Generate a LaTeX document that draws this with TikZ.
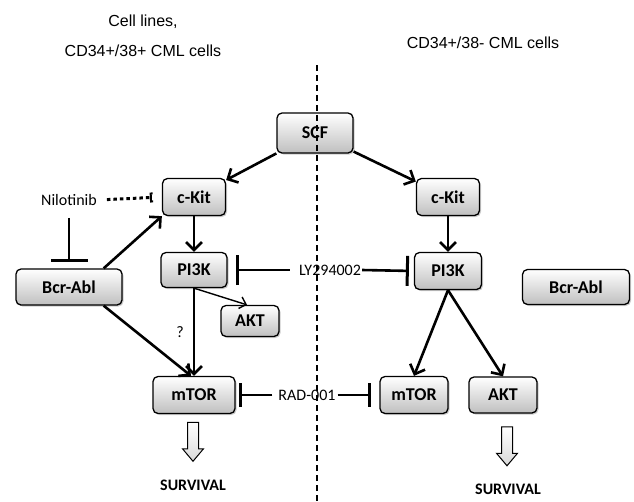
\documentclass[tikz,border=0pt]{standalone}
\usepackage{fontspec}
\setmainfont{Carlito}
\newfontfamily\arialfont{Liberation Sans}
\usetikzlibrary{arrows.meta,positioning,shapes.arrows,shadows}

\begin{document}
\begin{tikzpicture}[x=1pt,y=-1pt,
	box/.style={draw,line width=1.3pt,rounded corners=5pt,top color=white,bottom color=gray!50,
		drop shadow={shadow xshift=1.5pt,shadow yshift=-1.5pt,opacity=0.4},
		font=\fontsize{18}{21}\selectfont\bfseries,inner sep=0pt},
	act/.style={line width=2.6pt,-{Straight Barb[length=8pt,width=16pt,line width=2.6pt]}},
	inh/.style={line width=2.6pt,-{Bar[width=#1,line width=3pt]}},
	inh/.default=30pt,
	lbl/.style={font=\fontsize{16}{19}\selectfont,inner sep=1pt},
	title/.style={font=\arialfont\fontsize{16}{19}\selectfont,inner sep=1pt},
	surv/.style={single arrow,draw,line width=1pt,top color=white,bottom color=gray!30,
		inner sep=5pt,minimum height=39pt,single arrow head extend=5pt,
		single arrow tip angle=80,shape border rotate=270},
	divider/.style={line width=1.3pt,dash pattern=on 6pt off 4pt}]
	\useasboundingbox (0,0) rectangle (634,501);

	% titles
	\node[title] (tleft1) at (143,22) {Cell lines,};
	\node[title] (tleft2) at (143,51) {CD34+/38+ CML cells};
	\node[title] (tright) at (483,43) {CD34+/38- CML cells};

	% left side
	\node[box,minimum width=76pt,minimum height=40pt] (scf) at (315,133) {SCF};
	\node[box,minimum width=63pt,minimum height=37pt] (kitL) at (194,197) {c-Kit};
	\node[box,minimum width=66pt,minimum height=35pt] (pi3kL) at (194,270) {PI3K};
	\node[box,minimum width=106pt,minimum height=36pt] (bcrL) at (69,287) {Bcr-Abl};
	\node[box,minimum width=58pt,minimum height=31pt] (aktL) at (250,321) {AKT};
	\node[box,minimum width=82pt,minimum height=37pt] (mtorL) at (194,395) {mTOR};

	% right side
	\node[box,minimum width=63pt,minimum height=37pt] (kitR) at (448,197) {c-Kit};
	\node[box,minimum width=67pt,minimum height=37pt] (pi3kR) at (448,271) {PI3K};
	\node[box,minimum width=107pt,minimum height=35pt] (bcrR) at (576,287) {Bcr-Abl};
	\node[box,minimum width=68pt,minimum height=37pt] (mtorR) at (414,395) {mTOR};
	\node[box,minimum width=68pt,minimum height=36pt] (aktR) at (503,395) {AKT};

	% drugs
	\node[lbl] (nilo) at (69,200) {Nilotinib};
	\node[lbl] (ly) at (330,270) {LY294002};
	\node[lbl] (rad) at (307,395) {RAD-001};

	% activation
	\draw[act] (scf) -- (kitL);
	\draw[act] (scf) -- (kitR);
	\draw[act] (kitL) -- (pi3kL);
	\draw[act] (kitR) -- (pi3kR);
	\draw[act] ([xshift=-19pt]bcrL.north east) -- (kitL.south west);
	\draw[act] ([xshift=-19pt]bcrL.south east) -- ([xshift=-3pt]mtorL.north);
	\draw[act] (pi3kL) -- node[lbl,left=8pt] {?} (mtorL);
	\draw[line width=1.4pt,-{Straight Barb[length=6pt,width=12pt,line width=1.4pt]}] (pi3kL.south) -- ([xshift=-3pt]aktL.north);
	\draw[act] (pi3kR.south) -- (mtorR.north);
	\draw[act] (pi3kR.south) -- (aktR.north);

	% inhibition
	\draw[line width=3pt,dash pattern=on 3.5pt off 3pt,shorten <=9pt,shorten >=9pt,
		-{Bracket[reversed,width=10pt,length=2pt,line width=2pt]}] (nilo.east) -- (kitL.west);
	\draw[inh=37pt,shorten <=11pt,shorten >=6pt] (nilo.south) -- (bcrL.north);
	\draw[inh,shorten <=8pt,shorten >=8pt] (ly.west) -- (pi3kL.east);
	\draw[inh,shorten >=5pt] (ly.east) -- (pi3kR.west);
	\draw[inh=24pt,shorten <=5pt,shorten >=3pt] (rad.west) -- (mtorL.east);
	\draw[inh=24pt,shorten <=1pt,shorten >=8pt] (rad.east) -- (mtorR.west);

	% survival
	\node[surv] (arrL) at (193,438.5) {};
	\node[lbl,font=\fontsize{16}{19}\selectfont\bfseries] (survL) at (193,485) {SURVIVAL};
	\node[surv] (arrR) at (507,443) {};
	\node[lbl,font=\fontsize{16}{19}\selectfont\bfseries] (survR) at (508,489) {SURVIVAL};

	% divider
	\coordinate (divtop) at (317,65);
	\coordinate (divbot) at (317,501);
	\draw[divider] (divtop) -- (divbot);
\end{tikzpicture}
\end{document}
